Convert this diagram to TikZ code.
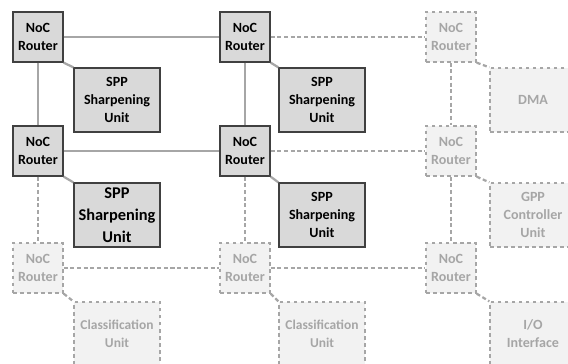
\documentclass[tikz,border=0pt]{standalone}
\usepackage{fontspec}
\setmainfont{Carlito}
\usepackage{tikz}
\usetikzlibrary{arrows}

\definecolor{boxgray}{HTML}{D9D9D9}
\definecolor{linegray}{HTML}{A6A6A6}
\definecolor{ghostfill}{HTML}{F2F2F2}
\definecolor{ghosttext}{HTML}{A6A6A6}

\begin{document}
\begin{tikzpicture}[x=0.03cm,y=-0.03cm,
  font=\fontsize{12}{15.5}\selectfont\bfseries,
  router node/.style={rectangle,draw=black!75,fill=boxgray,line width=1.1pt,
    minimum width=1.5cm,minimum height=1.5cm,inner sep=0pt,align=center},
  unit node/.style={rectangle,draw=black!75,fill=boxgray,line width=1.1pt,
    minimum width=2.58cm,minimum height=1.92cm,inner sep=0pt,align=center},
  ghost router/.style={router node,draw=linegray,fill=ghostfill,text=ghosttext,dashed},
  ghost unit/.style={unit node,draw=linegray,fill=ghostfill,text=ghosttext,dashed},
  link/.style={draw=linegray,line width=1.9pt},
  ghost link/.style={link,dash pattern=on 3.5pt off 2.2pt}]

  \useasboundingbox (0,0) rectangle (568,363);
  \clip (0,0) rectangle (568,363);

  \node[router node] (11) at (38,37) {NoC\\Router};
  \node[router node] (12) at (245,37) {NoC\\Router};
  \node[ghost router] (13) at (451,37) {NoC\\Router};
  \node[router node] (21) at (38,151) {NoC\\Router};
  \node[router node] (22) at (245,151) {NoC\\Router};
  \node[ghost router] (23) at (451,151) {NoC\\Router};
  \node[ghost router] (31) at (38,268) {NoC\\Router};
  \node[ghost router] (32) at (245,268) {NoC\\Router};
  \node[ghost router] (33) at (451,268) {NoC\\Router};

  \node[unit node] (spp1) at (117,100) {SPP\\Sharpening\\Unit};
  \node[unit node] (spp2) at (322,100) {SPP\\Sharpening\\Unit};
  \node[unit node,font=\fontsize{14}{19}\selectfont\bfseries] (spp3) at (117,215) {SPP\\Sharpening\\Unit};
  \node[unit node] (spp4) at (322,215) {SPP\\Sharpening\\Unit};
  \node[ghost unit] (dma) at (533,100) {DMA};
  \node[ghost unit] (gpp) at (533,215) {GPP\\Controller\\Unit};
  \node[ghost unit,font=\fontsize{11.5}{15.5}\selectfont\bfseries] (cls1) at (117,334) {Classification\\Unit};
  \node[ghost unit,font=\fontsize{11.5}{15.5}\selectfont\bfseries] (cls2) at (322,334) {Classification\\Unit};
  \node[ghost unit] (io) at (533,334) {I/O\\Interface};

  \path[link]
    (11) edge (12)
         edge (21)
    (12) edge (22)
    (21) edge (22)
    (11.south east) edge (spp1.north west)
    (12.south east) edge (spp2.north west)
    (21.south east) edge (spp3.north west)
    (22.south east) edge (spp4.north west);

  \path[ghost link]
    (12) edge (13)
    (22) edge (23)
    (13) edge (23)
    (23) edge (33)
    (21) edge (31)
    (22) edge (32)
    (31) edge (32)
    (32) edge (33)
    (13.south east) edge (dma.north west)
    (23.south east) edge (gpp.north west)
    (31.south east) edge (cls1.north west)
    (32.south east) edge (cls2.north west)
    (33.south east) edge (io.north west);
\end{tikzpicture}
\end{document}
